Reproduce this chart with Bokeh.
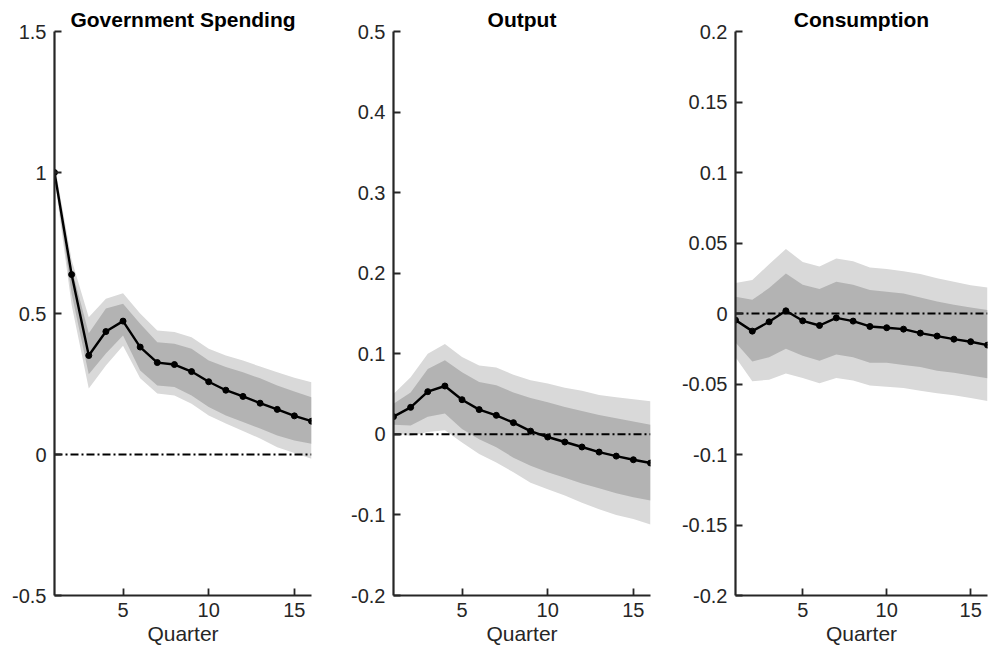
from bokeh.plotting import figure
from bokeh.layouts import row
from bokeh.models import Range1d, FixedTicker
from bokeh.embed import file_html
from bokeh.resources import INLINE

# ---------------- data ----------------
quarters = list(range(1, 17))
x_ticks = [5, 10, 15]
x_label = "Quarter"

titles = ["Government Spending", "Output", "Consumption"]

gs_irf = [1.0, 0.638, 0.351, 0.436, 0.473, 0.381, 0.326, 0.319, 0.294, 0.258, 0.228, 0.206, 0.182, 0.160, 0.137, 0.118]
gs_hi90 = [1.03, 0.69, 0.487, 0.552, 0.572, 0.50, 0.44, 0.434, 0.416, 0.375, 0.351, 0.333, 0.312, 0.292, 0.272, 0.256]
gs_hi68 = [1.01, 0.66, 0.43, 0.518, 0.535, 0.464, 0.398, 0.393, 0.375, 0.333, 0.31, 0.292, 0.27, 0.245, 0.223, 0.203]
gs_lo68 = [0.99, 0.57, 0.285, 0.358, 0.422, 0.298, 0.245, 0.239, 0.209, 0.168, 0.138, 0.115, 0.092, 0.067, 0.05, 0.038]
gs_lo90 = [0.98, 0.53, 0.234, 0.316, 0.386, 0.27, 0.216, 0.209, 0.18, 0.138, 0.11, 0.083, 0.057, 0.026, 0.005, -0.015]
gs_yticks = [-0.5, 0, 0.5, 1, 1.5]
gs_ylabels = ["-0.5", "0", "0.5", "1", "1.5"]

y_irf = [0.022, 0.0335, 0.053, 0.060, 0.043, 0.0307, 0.0236, 0.0145, 0.004, -0.0033, -0.0095, -0.0157, -0.022, -0.027, -0.0315, -0.0356]
y_hi90 = [0.050, 0.071, 0.100, 0.112, 0.096, 0.0855, 0.083, 0.074, 0.067, 0.063, 0.058, 0.054, 0.049, 0.046, 0.0435, 0.041]
y_hi68 = [0.038, 0.052, 0.081, 0.092, 0.077, 0.065, 0.061, 0.052, 0.045, 0.040, 0.034, 0.029, 0.024, 0.020, 0.016, 0.012]
y_lo68 = [0.012, 0.011, 0.022, 0.026, 0.0066, -0.006, -0.016, -0.029, -0.039, -0.047, -0.054, -0.061, -0.067, -0.073, -0.078, -0.082]
y_lo90 = [0.002, -0.002, 0.003, 0.005, -0.010, -0.0245, -0.035, -0.047, -0.060, -0.068, -0.076, -0.085, -0.093, -0.100, -0.105, -0.112]
y_yticks = [-0.2, -0.1, 0, 0.1, 0.2, 0.3, 0.4, 0.5]
y_ylabels = ["-0.2", "-0.1", "0", "0.1", "0.2", "0.3", "0.4", "0.5"]

c_irf = [-0.0047, -0.0125, -0.0059, 0.0019, -0.0052, -0.0085, -0.0031, -0.0054, -0.0092, -0.0101, -0.0111, -0.0139, -0.016, -0.0182, -0.020, -0.0224]
c_hi90 = [0.0216, 0.0237, 0.035, 0.0457, 0.0366, 0.0334, 0.039, 0.037, 0.0327, 0.0315, 0.030, 0.028, 0.025, 0.0225, 0.020, 0.0185]
c_hi68 = [0.0118, 0.0097, 0.018, 0.0284, 0.0204, 0.0173, 0.0225, 0.0204, 0.0166, 0.0154, 0.0142, 0.0114, 0.0085, 0.0062, 0.0043, 0.0024]
c_lo68 = [-0.0205, -0.034, -0.031, -0.025, -0.030, -0.0335, -0.029, -0.031, -0.035, -0.035, -0.0366, -0.038, -0.0406, -0.042, -0.044, -0.046]
c_lo90 = [-0.031, -0.048, -0.047, -0.0425, -0.0458, -0.0495, -0.0458, -0.0476, -0.051, -0.052, -0.0528, -0.0547, -0.0566, -0.058, -0.060, -0.062]
c_yticks = [-0.2, -0.15, -0.1, -0.05, 0, 0.05, 0.1, 0.15, 0.2]
c_ylabels = ["-0.2", "-0.15", "-0.1", "-0.05", "0", "0.05", "0.1", "0.15", "0.2"]

FONT = "Liberation Sans"
AXC = "#262626"


def make_panel(title, irf, lo90, hi90, lo68, hi68, yticks, ylabels, width, border_right):
    p = figure(width=width, height=651,
               x_range=Range1d(1, 16), y_range=Range1d(yticks[0], yticks[-1]),
               output_backend="svg", toolbar_location=None,
               min_border_left=54, min_border_right=border_right,
               min_border_top=31, min_border_bottom=56)
    p.outline_line_color = None
    p.grid.visible = False
    p.background_fill_color = "white"
    p.border_fill_color = "white"

    p.title.text = title
    p.title.align = "center"
    p.title.text_font = FONT
    p.title.text_font_size = "21px"
    p.title.text_font_style = "bold"
    p.title.text_color = "black"
    p.title.standoff = 2

    p.varea(x=quarters, y1=lo90, y2=hi90, fill_color="#d9d9d9")
    p.varea(x=quarters, y1=lo68, y2=hi68, fill_color="#b3b3b3")
    p.line(x=[quarters[0], quarters[-1]], y=[0, 0], line_color="black",
           line_width=2, line_dash="8 3 2 3")
    p.line(x=quarters, y=irf, line_color="black", line_width=2.4)
    p.scatter(x=quarters, y=irf, size=6, fill_color="black", line_color="black")

    for ax in (p.xaxis[0], p.yaxis[0]):
        ax.axis_line_color = AXC
        ax.axis_line_width = 2.2
        ax.major_tick_line_color = AXC
        ax.major_tick_line_width = 1.8
        ax.major_tick_in = 7
        ax.major_tick_out = 0
        ax.minor_tick_line_color = None
        ax.major_label_text_font = FONT
        ax.major_label_text_font_size = "20px"
        ax.major_label_text_color = AXC

    p.xaxis.ticker = FixedTicker(ticks=x_ticks)
    p.xaxis.axis_label = x_label
    p.xaxis.axis_label_text_font = FONT
    p.xaxis.axis_label_text_font_size = "21px"
    p.xaxis.axis_label_text_font_style = "normal"
    p.xaxis.axis_label_text_color = AXC
    p.xaxis.axis_label_standoff = 2
    p.xaxis.major_label_standoff = 7

    p.yaxis.ticker = FixedTicker(ticks=yticks)
    p.yaxis.major_label_overrides = dict(zip(yticks, ylabels))
    p.yaxis.major_label_standoff = 8
    return p


p1 = make_panel(titles[0], gs_irf, gs_lo90, gs_hi90, gs_lo68, gs_hi68, gs_yticks, gs_ylabels, 339, 28)
p2 = make_panel(titles[1], y_irf, y_lo90, y_hi90, y_lo68, y_hi68, y_yticks, y_ylabels, 339, 28)
p3 = make_panel(titles[2], c_irf, c_lo90, c_hi90, c_lo68, c_hi68, c_yticks, c_ylabels, 310, 1)

layout = row(p1, p2, p3, spacing=0)
open("out.html", "w").write(file_html(layout, INLINE))
